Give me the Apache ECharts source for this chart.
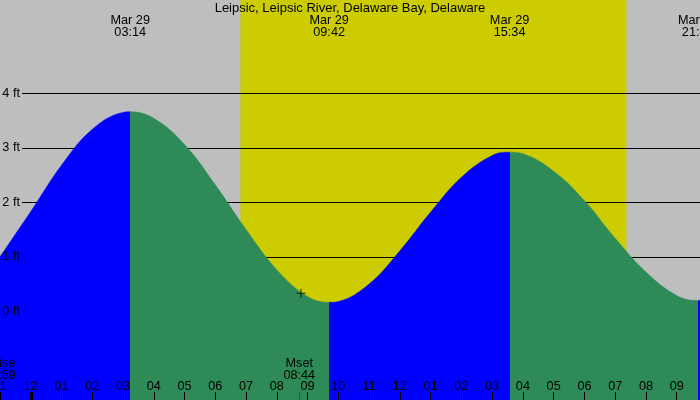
<!DOCTYPE html>
<html><head><meta charset="utf-8">
<script src="https://cdn.jsdelivr.net/npm/echarts@6/dist/echarts.min.js"></script>
<style>html,body{margin:0;padding:0;background:#bebebe}#c{width:700px;height:400px}</style>
</head><body><div id="c"></div>
<script>
// ---- data ----
const titleText = 'Leipsic, Leipsic River, Delaware Bay, Delaware';
const dateLabel = 'Mar 29';
const extremeTimes = ['03:14', '09:42', '15:34', '21:41'];
const extremeTypes = ['high', 'low', 'high', 'low'];
// tide heights (ft), hours after midnight Mar 29
const tideHours = [-1, 0, 1, 2, 3, 3.233, 4, 5, 6, 7, 8, 9, 9.7, 10, 11, 12, 13, 14, 15, 15.567, 16, 17, 18, 19, 20, 21, 21.683, 21.76];
const tideFeet  = [1.00, 1.83, 2.68, 3.34, 3.65, 3.66, 3.54, 3.06, 2.32, 1.50, 0.76, 0.27, 0.165, 0.18, 0.50, 1.11, 1.82, 2.46, 2.86, 2.92, 2.89, 2.57, 2.03, 1.34, 0.72, 0.29, 0.20, 0.20];
const heightTicks = [0, 1, 2, 3, 4];
const heightUnit = 'ft';
const tickHours  = [-1, 0, 1, 2, 3, 4, 5, 6, 7, 8, 9, 10, 11, 12, 13, 14, 15, 16, 17, 18, 19, 20, 21];
const tickLabels = ['11', '12', '01', '02', '03', '04', '05', '06', '07', '08', '09', '10', '11', '12', '01', '02', '03', '04', '05', '06', '07', '08', '09'];
const sunriseTime = '06:49';
const sunsetTime = '19:22';
const moonNames = ['Mrise', 'Mset'];
const moonTimes = ['22:59', '08:44'];
const moonDayOffsets = [-1, 0];
const markerTime = '08:47';
const markerFeet = 0.33;

// ---- layout / style ----
const FONT = 'Liberation Sans';
const C_NIGHT = '#bebebe', C_DAY = '#cccc00', C_RISE = '#0000ff', C_FALL = '#2e8b57';
const X_MIN = -1, X_MAX = -1 + 700 / 30.76;
const Y_MIN = -(400 - 311.3) / 54.5, Y_MAX = 311.3 / 54.5;

const toH = (s, off) => { const [h, m] = s.split(':').map(Number); return h + m / 60 + 24 * (off || 0); };
const extremeHours = extremeTimes.map(t => toH(t));
const pad = n => String(n).padStart(2, '0');
const fmtHM = v => { const mins = Math.round(v * 60); return pad(Math.floor(mins / 60)) + ':' + pad(mins % 60); };

// colour pieces: rising (ending at a high) blue, falling green
const pieces = [];
extremeHours.forEach((h, i) => {
  const color = extremeTypes[i] === 'high' ? C_RISE : C_FALL;
  const p = { lt: h, color };
  if (i > 0) p.gte = extremeHours[i - 1];
  pieces.push(p);
});
pieces.push({ gte: extremeHours[extremeHours.length - 1], color: extremeTypes[extremeTypes.length - 1] === 'high' ? C_FALL : C_RISE });

const textBase = { color: '#000', fontFamily: FONT, fontSize: 12.7 };

const moonLines = moonNames.map((n, i) => {
  const h = toH(moonTimes[i], moonDayOffsets[i]);
  const visible = h >= X_MIN;
  return {
    xAxis: Math.max(h, X_MIN),
    lineStyle: { color: visible ? '#ff0000' : 'rgba(0,0,0,0)', width: 1, type: 'solid' },
    label: { show: true, position: 'end', distance: 11, formatter: n + '\n' + moonTimes[i], ...textBase, lineHeight: 12 }
  };
});

const gridBase = { outerBoundsMode: 'none', containLabel: false };

const chart = echarts.init(document.getElementById('c'), null, { renderer: 'canvas' });
chart.setOption({
  animation: false,
  backgroundColor: C_NIGHT,
  title: { text: titleText, left: 'center', top: 2, padding: 0, textStyle: { ...textBase, fontSize: 13, fontWeight: 'normal' }, z: 20 },
  grid: [
    { ...gridBase, left: 0, right: 0, top: 0, bottom: 0, show: true, backgroundColor: C_NIGHT, borderWidth: 0 },
    { ...gridBase, left: 22, right: 0, top: 0, bottom: 0 },
    { ...gridBase, left: 0, right: 0, bottom: 0, height: 8 }
  ],
  xAxis: [
    { gridIndex: 0, type: 'value', min: X_MIN, max: X_MAX, position: 'bottom', z: 10,
      axisLine: { show: false, onZero: false }, splitLine: { show: false },
      axisTick: { show: true, inside: true, length: 8, customValues: tickHours, lineStyle: { color: '#000', width: 1 } },
      axisLabel: { show: true, inside: true, margin: 7, customValues: tickHours, ...textBase,
        formatter: v => tickLabels[tickHours.indexOf(Math.round(v))] } },
    { gridIndex: 0, type: 'value', min: X_MIN, max: X_MAX, position: 'top', z: 10,
      axisLine: { show: false, onZero: false }, splitLine: { show: false }, axisTick: { show: false },
      axisLabel: { show: true, inside: true, margin: 14, customValues: extremeHours, ...textBase, lineHeight: 12,
        formatter: v => dateLabel + '\n' + fmtHM(v) } },
    { gridIndex: 1, type: 'value', min: X_MIN, max: X_MAX, show: false, axisLine: { onZero: false } },
    { gridIndex: 2, type: 'value', min: X_MIN, max: X_MAX, show: false, axisLine: { onZero: false } }
  ],
  yAxis: [
    { gridIndex: 0, type: 'value', min: Y_MIN, max: Y_MAX, show: false, axisLine: { onZero: false } },
    { gridIndex: 1, type: 'value', min: Y_MIN, max: Y_MAX, show: false, axisLine: { onZero: false } },
    { gridIndex: 2, type: 'value', min: 0, max: 1, show: false, axisLine: { onZero: false } }
  ],
  visualMap: { show: false, type: 'piecewise', dimension: 0, seriesIndex: 0, pieces },
  series: [
    { type: 'line', xAxisIndex: 0, yAxisIndex: 0, z: 2, smooth: 0.4, symbol: 'none',
      data: tideHours.map((h, i) => [h, tideFeet[i]]),
      lineStyle: { width: 0.5 }, areaStyle: { opacity: 1, origin: 'start' },
      markArea: { silent: true, z: 1, itemStyle: { color: C_DAY, opacity: 1 },
        data: [[{ xAxis: toH(sunriseTime) }, { xAxis: toH(sunsetTime) }]] } },
    { type: 'line', xAxisIndex: 2, yAxisIndex: 1, data: [], z: 1.5,
      markLine: { silent: true, z: 1.5, symbol: 'none', label: { show: false },
        lineStyle: { color: '#000', width: 1, type: 'solid' },
        data: heightTicks.map(v => ({ yAxis: v })) } },
    { type: 'line', xAxisIndex: 2, yAxisIndex: 1, data: [], z: 5,
      markLine: { silent: true, z: 5, symbol: 'none',
        lineStyle: { color: 'rgba(0,0,0,0)', width: 1 },
        label: { show: true, position: 'start', distance: 2, ...textBase, formatter: p => p.value + ' ' + heightUnit },
        data: heightTicks.map(v => ({ yAxis: v })) } },
    { type: 'scatter', xAxisIndex: 0, yAxisIndex: 0, z: 6, silent: true,
      symbol: 'path://M4,0h1v4h4v1h-4v4h-1v-4h-4v-1h4z', symbolSize: 9,
      itemStyle: { color: '#000' },
      data: [[toH(markerTime), markerFeet]] },
    { type: 'line', xAxisIndex: 3, yAxisIndex: 2, data: [], z: 11,
      markLine: { silent: true, z: 11, symbol: 'none',
        data: [
          { xAxis: 0, lineStyle: { color: '#000', width: 3, type: 'solid' }, label: { show: false } },
          ...moonLines
        ] } }
  ]
});
</script></body></html>
